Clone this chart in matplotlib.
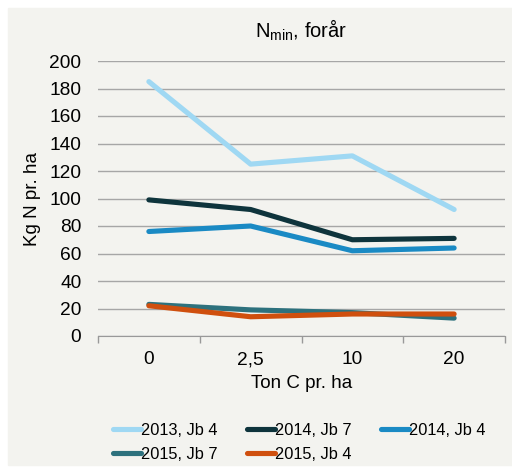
import matplotlib.pyplot as plt
from matplotlib.patches import Rectangle
from matplotlib.ticker import FixedLocator

plt.rcParams['font.family'] = ['Liberation Sans', 'DejaVu Sans']

doses = ["0", "2,5", "10", "20"]
s2013_jb4 = [185, 125, 131, 92]
s2014_jb7 = [99, 92, 70, 71]
s2014_jb4 = [76, 80, 62, 64]
s2015_jb7 = [23, 19, 17, 13]
s2015_jb4 = [22, 14, 16, 16]

series = [
    ("2013, Jb 4", s2013_jb4, "#9fd8f3"),
    ("2014, Jb 7", s2014_jb7, "#0e343c"),
    ("2014, Jb 4", s2014_jb4, "#1a8ac4"),
    ("2015, Jb 7", s2015_jb7, "#2d717d"),
    ("2015, Jb 4", s2015_jb4, "#cf4f0e"),
]

fig = plt.figure(figsize=(5.12, 4.68), dpi=100, facecolor="white")
bg = "#f3f3ef"
fig.patches.append(Rectangle((8/512, 1-465/468), 504/512, 457/468,
                             transform=fig.transFigure, color=bg, zorder=-10))

ax = fig.add_axes([98/512, 1-336/468, 407/512, 275/468])
ax.patch.set_alpha(0)

x = range(len(doses))
lines = []
for name, vals, col in series:
    ln, = ax.plot(x, vals, color=col, lw=3.7, label=name, solid_capstyle="round")
    lines.append(ln)

ax.set_ylim(0, 200)
ax.set_xlim(-0.5, 3.5)
ax.set_yticks(range(0, 201, 20))
ax.set_xticks(list(x))
ax.set_xticklabels(doses)
ax.xaxis.set_minor_locator(FixedLocator([-0.5, 0.5, 1.5, 2.5, 3.5]))
ax.tick_params(axis="x", which="major", length=0, pad=11, labelsize=13.8)
ax.tick_params(axis="x", which="minor", length=5, color="#999999", width=1)
ax.tick_params(axis="y", length=0, pad=12, labelsize=13.8)
ax.grid(axis="y", color="#a6a6a6", lw=1)
ax.set_axisbelow(True)
for s in ["left", "right", "top"]:
    ax.spines[s].set_visible(False)
ax.spines["bottom"].set_color("#999999")

ax.set_title("N$_{\\mathregular{min}}$, forår", fontsize=14.5, pad=17)
ax.set_xlabel("Ton C pr. ha", fontsize=13.5, labelpad=5)
ax.set_ylabel("Kg N pr. ha", fontsize=13.5, labelpad=6)

# row-wise order for the legend
order = [0, 3, 1, 4, 2]
fig.legend([lines[i] for i in order], [series[i][0] for i in order],
           loc="upper left", bbox_to_anchor=(98/512, 1-408/468), ncol=3,
           frameon=False, fontsize=11.8, handlelength=1.75, handletextpad=0.0,
           columnspacing=1.75, labelspacing=0.55)

fig.savefig("out.png", dpi=100, facecolor="white")
